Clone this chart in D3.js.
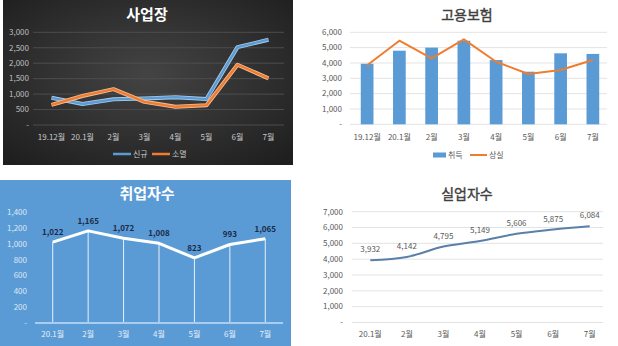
<!DOCTYPE html>
<html>
<head>
<meta charset="utf-8">
<script src="https://cdn.jsdelivr.net/npm/d3@7/dist/d3.min.js"></script>
<style>
  html, body { margin: 0; padding: 0; background: #fff; }
  svg { display: block; font-family: "Malgun Gothic", "Noto Sans CJK KR", sans-serif; }
</style>
</head>
<body>
<svg id="chart" width="618" height="346"></svg>
<script>
// ---- data ----
const monthsA = ["19.12월", "20.1월", "2월", "3월", "4월", "5월", "6월", "7월"];
const bizNew = [880, 680, 830, 860, 900, 840, 2520, 2760];
const bizClosed = [650, 940, 1160, 750, 590, 640, 1950, 1510];
const yTicksBiz = [0, 500, 1000, 1500, 2000, 2500, 3000];

const insAcquired = [3950, 4800, 5000, 5450, 4190, 3430, 4630, 4590];
const insLost = [3850, 5450, 4300, 5540, 4080, 3280, 3540, 4190];
const yTicksIns = [0, 1000, 2000, 3000, 4000, 5000, 6000];

const monthsB = ["20.1월", "2월", "3월", "4월", "5월", "6월", "7월"];
const employed = [1022, 1165, 1072, 1008, 823, 993, 1065];
const yTicksEmp = [0, 200, 400, 600, 800, 1000, 1200, 1400];

const unemployed = [3932, 4142, 4795, 5149, 5606, 5875, 6084];
const yTicksUnemp = [0, 1000, 2000, 3000, 4000, 5000, 6000, 7000];

const svg = d3.select("#chart");
const fmt = v => v === 0 ? "-" : d3.format(",")(v);

// shared helper: y gridlines + tick labels
function yAxis(g, y, ticks, x0, x1, gridColor, textColor, labelX) {
  g.selectAll(null).data(ticks).enter().append("line")
    .attr("x1", x0).attr("x2", x1)
    .attr("y1", d => y(d)).attr("y2", d => y(d))
    .attr("stroke", gridColor).attr("stroke-width", 1);
  g.selectAll(null).data(ticks).enter().append("text")
    .attr("x", labelX).attr("y", d => y(d))
    .attr("dy", "0.35em").attr("text-anchor", "end")
    .attr("font-size", 8).attr("fill", textColor)
    .text(fmt);
}
function xLabels(g, x, cats, yPos, color) {
  g.selectAll(null).data(cats).enter().append("text")
    .attr("x", d => x(d) + x.bandwidth() / 2).attr("y", yPos)
    .attr("text-anchor", "middle").attr("font-size", 8).attr("fill", color)
    .text(d => d);
}

// ---------- 1. 사업장 (dark panel) ----------
{
  const defs = svg.append("defs");
  const grad = defs.append("radialGradient").attr("id", "darkBg")
    .attr("cx", "50%").attr("cy", "45%").attr("r", "70%");
  grad.append("stop").attr("offset", "0%").attr("stop-color", "#444444");
  grad.append("stop").attr("offset", "100%").attr("stop-color", "#1f1f1f");

  const g = svg.append("g");
  g.append("rect").attr("x", 3).attr("y", 0).attr("width", 290).attr("height", 165)
    .attr("fill", "url(#darkBg)");
  g.append("text").attr("x", 147).attr("y", 20).attr("text-anchor", "middle")
    .attr("font-size", 15).attr("font-weight", "bold").attr("fill", "#ffffff").text("사업장");

  const x = d3.scaleBand().domain(monthsA).range([36, 284]);
  const y = d3.scaleLinear().domain([0, 3000]).range([125, 32.3]);
  yAxis(g, y, yTicksBiz, 33, 284, "#4d4d4d", "#bfbfbf", 29);
  xLabels(g, x, monthsA, 139.5, "#c8c8c8");

  const line = d3.line().x((d, i) => x(monthsA[i]) + x.bandwidth() / 2).y(d => y(d));
  [[bizNew, "#5b9bd5", "#a9cbe9"], [bizClosed, "#ed7d31", "#f6bd96"]].forEach(([data, c, glow]) => {
    g.append("path").datum(data).attr("d", line).attr("fill", "none")
      .attr("stroke", glow).attr("stroke-width", 4).attr("stroke-linejoin", "round");
    g.append("path").datum(data).attr("d", line).attr("fill", "none")
      .attr("stroke", c).attr("stroke-width", 2.3).attr("stroke-linejoin", "round");
  });

  // legend
  const leg = [["신규", "#5b9bd5", 113], ["소멸", "#ed7d31", 152]];
  leg.forEach(([t, c, lx]) => {
    g.append("line").attr("x1", lx).attr("x2", lx + 18).attr("y1", 154).attr("y2", 154)
      .attr("stroke", c).attr("stroke-width", 2.5);
    g.append("text").attr("x", lx + 20).attr("y", 154).attr("dy", "0.35em")
      .attr("font-size", 8).attr("fill", "#c8c8c8").text(t);
  });
}

// ---------- 2. 고용보험 ----------
{
  const g = svg.append("g");
  g.append("text").attr("x", 467).attr("y", 20).attr("text-anchor", "middle")
    .attr("font-size", 14).attr("fill", "#404040")
    .attr("stroke", "#404040").attr("stroke-width", 0.4).text("고용보험");

  const x = d3.scaleBand().domain(monthsA).range([351, 609]);
  const y = d3.scaleLinear().domain([0, 6000]).range([124.3, 32.3]);
  yAxis(g, y, yTicksIns, 350, 607, "#e3e3e3", "#595959", 342);
  xLabels(g, x, monthsA, 139.5, "#595959");

  const bw = 12.7;
  g.selectAll(null).data(insAcquired).enter().append("rect")
    .attr("x", (d, i) => x(monthsA[i]) + x.bandwidth() / 2 - bw / 2)
    .attr("y", d => y(d)).attr("width", bw).attr("height", d => y(0) - y(d))
    .attr("fill", "#5b9bd5");

  const line = d3.line().x((d, i) => x(monthsA[i]) + x.bandwidth() / 2).y(d => y(d));
  g.append("path").datum(insLost).attr("d", line).attr("fill", "none")
    .attr("stroke", "#ed7d31").attr("stroke-width", 2).attr("stroke-linejoin", "round");

  g.append("rect").attr("x", 433).attr("y", 152.5).attr("width", 13).attr("height", 5).attr("fill", "#5b9bd5");
  g.append("text").attr("x", 448).attr("y", 155).attr("dy", "0.35em").attr("font-size", 8)
    .attr("fill", "#595959").text("취득");
  g.append("line").attr("x1", 470).attr("x2", 487).attr("y1", 155).attr("y2", 155)
    .attr("stroke", "#ed7d31").attr("stroke-width", 2);
  g.append("text").attr("x", 489).attr("y", 155).attr("dy", "0.35em").attr("font-size", 8)
    .attr("fill", "#595959").text("상실");
}

// ---------- 3. 취업자수 (blue panel) ----------
{
  const g = svg.append("g");
  g.append("rect").attr("x", 0).attr("y", 180).attr("width", 291).attr("height", 166).attr("fill", "#5b9bd5");
  g.append("text").attr("x", 147).attr("y", 199).attr("text-anchor", "middle")
    .attr("font-size", 15).attr("font-weight", "bold").attr("fill", "#ffffff").text("취업자수");

  const x = d3.scaleBand().domain(monthsB).range([35, 283]);
  const y = d3.scaleLinear().domain([0, 1400]).range([323, 212.3]);
  g.selectAll(null).data(yTicksEmp).enter().append("text")
    .attr("x", 27).attr("y", d => y(d)).attr("dy", "0.35em").attr("text-anchor", "end")
    .attr("font-size", 8).attr("fill", "#dbe8f6").text(fmt);
  xLabels(g, x, monthsB, 337, "#e4eef9");

  const cx = (d, i) => x(monthsB[i]) + x.bandwidth() / 2;
  // drop lines
  g.selectAll(null).data(employed).enter().append("line")
    .attr("x1", cx).attr("x2", cx).attr("y1", d => y(d)).attr("y2", y(0))
    .attr("stroke", "#e6f0fa").attr("stroke-width", 1);
  g.append("line").attr("x1", 35).attr("x2", 283).attr("y1", y(0)).attr("y2", y(0))
    .attr("stroke", "#a9cdf0").attr("stroke-width", 2);
  const line = d3.line().x(cx).y(d => y(d));
  g.append("path").datum(employed).attr("d", line).attr("fill", "none")
    .attr("stroke", "#ffffff").attr("stroke-width", 3).attr("stroke-linejoin", "round");
  g.selectAll(null).data(employed).enter().append("text")
    .attr("x", cx).attr("y", d => y(d) - 7).attr("text-anchor", "middle")
    .attr("font-size", 8).attr("font-weight", "bold").attr("fill", "#1a2a4a")
    .text(d => d3.format(",")(d));
}

// ---------- 4. 실업자수 ----------
{
  const g = svg.append("g");
  g.append("text").attr("x", 467).attr("y", 199).attr("text-anchor", "middle")
    .attr("font-size", 14).attr("fill", "#404040")
    .attr("stroke", "#404040").attr("stroke-width", 0.4).text("실업자수");

  const x = d3.scaleBand().domain(monthsB).range([352, 608]);
  const y = d3.scaleLinear().domain([0, 7000]).range([322.5, 211.7]);
  yAxis(g, y, yTicksUnemp, 352, 603, "#e3e3e3", "#595959", 343);
  xLabels(g, x, monthsB, 337, "#595959");

  const cx = (d, i) => x(monthsB[i]) + x.bandwidth() / 2;
  const line = d3.line().x(cx).y(d => y(d)).curve(d3.curveMonotoneX);
  g.append("path").datum(unemployed).attr("d", line).attr("fill", "none")
    .attr("stroke", "#5a7fa8").attr("stroke-width", 2);
  g.selectAll(null).data(unemployed).enter().append("text")
    .attr("x", cx).attr("y", d => y(d) - 8).attr("text-anchor", "middle")
    .attr("font-size", 8).attr("fill", "#595959")
    .text(d => d3.format(",")(d));
}
</script>
</body>
</html>
